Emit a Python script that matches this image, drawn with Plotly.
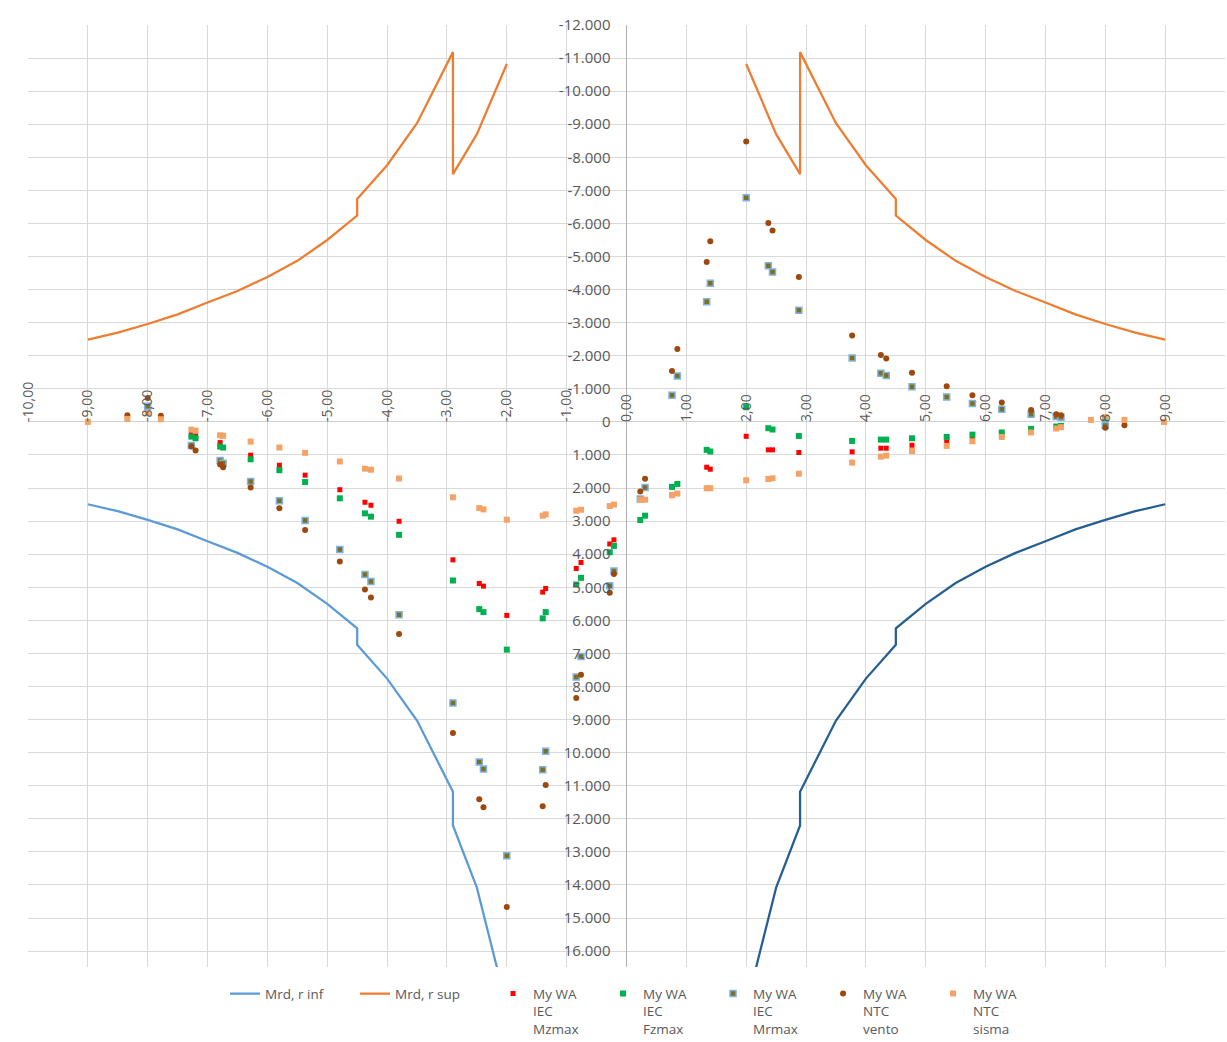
import plotly.graph_objects as go

# --- Resisting moment envelopes (Mrd) versus r ---------------------------
r_env = [-9.0, -8.5, -8.0, -7.5, -7.0, -6.5, -6.0, -5.5, -5.0, -4.5, -4.5,
         -4.0, -3.5, -2.9]
mrd_mag = [2490, 2700, 2960, 3250, 3610, 3960, 4380, 4870, 5500, 6240, 6740,
           7760, 9030, 11180]

# tail of the envelopes near the hub (after the step at r = -2.9)
r_tail = [-2.9, -2.5, -2.0]
sup_tail = [-7490, -8700, -10820]
inf_tail = [12200, 14080, 17680]

# --- Acting moments at the sections ----------------------------------------
r_pos = [-9.0, -8.34, -8.0, -7.78, -7.27, -7.2, -6.79, -6.74, -6.28, -5.8,
         -5.37, -4.79, -4.37, -4.27, -3.8, -2.9, -2.46, -2.39, -2.0, -1.4,
         -1.35, -0.84, -0.76, -0.28, -0.21, 0.23, 0.31, 0.76, 0.85, 1.34,
         1.4, 2.0, 2.37, 2.44, 2.88, 3.77, 4.25, 4.34, 4.77, 5.35, 5.78,
         6.27, 6.76, 7.18, 7.26, 7.76, 8.0, 8.32, 8.98]

my_iec_mzmax = [None, None, None, None, 370, 420, 625, None, 1005, 1310,
                1610, 2050, 2430, 2520, 3005, 4170, 4885, 4965, 5850, 5145,
                5035, 4430, 4250, 3690, 3565, None, None, 2230, None, 1370,
                1430, 435, 845, 845, 925, 905, 795, 795, 705, 615, 495,
                390, 265, None, None, None, None, None, None]

my_iec_fzmax = [None, None, -460, None, 445, 495, 745, 775, 1130, 1460,
                1815, 2310, 2765, 2865, 3415, 4795, 5660, 5750, 6885, 5940,
                5750, 4915, 4715, 3940, 3750, 2965, 2835, 1965, 1875, 845,
                895, -445, 190, 230, 425, 575, 535, 535, 495, 455, 385,
                320, 210, 140, 120, None, -100, None, None]

my_iec_mrmax = [None, None, -470, None, 715, None, 1170, 1250, 1805, 2385,
                2980, 3860, 4615, 4825, 5830, 8495, 10280, 10495, 13120,
                10515, 9960, 7715, 7090, 4955, 4505, 2330, 1985, -805, -1390,
                -3635, -4190, -6775, -4725, -4530, -3375, -1935, -1470,
                -1400, -1065, -755, -555, -385, -230, -160, -140, None, 110,
                None, None]

my_ntc_vento = [None, -200, -720, -190, 745, 865, 1290, 1370, 1985, 2610,
                3270, 4220, 5065, 5305, 6410, 9405, 11410, 11650, 14665,
                11620, 10975, 8350, 7645, 5165, 4600, 2105, 1715, -1540,
                -2205, -4835, -5460, -8480, -6010, -5790, -4380, -2610,
                -2025, -1915, -1490, -1080, -805, -585, -360, -230, -200,
                None, 180, 100, None]

my_ntc_sisma = [0, -90, -265, -80, 235, 265, 405, 420, 595, 775, 935, 1195,
                1415, 1445, 1710, 2280, 2605, 2645, 2955, 2835, 2795, 2685,
                2655, 2545, 2500, 2355, 2350, 2210, 2165, 2005, 2005, 1765,
                1725, 1705, 1565, 1230, 1050, 1020, 880, 725, 585, 455, 320,
                200, 160, -60, -150, -60, 0]

# --- Axis ticks --------------------------------------------------------------
x_ticks = list(range(-10, 11))
x_ticktext = [f"{v},00" for v in x_ticks]
y_ticks = list(range(-12000, 17000, 1000))


def it_thousands(v):
    s = f"{abs(v):,}".replace(",", ".")
    return ("-" if v < 0 else "") + s


y_ticktext = [it_thousands(v) for v in y_ticks]

Y_MIN, Y_MAX = -12000, 16480

# --- Build the envelope curves (left half and mirrored right half) ----------
sup_left_x = r_env + r_tail
sup_left_y = [-m for m in mrd_mag] + sup_tail
inf_left_x = r_env + r_tail
inf_left_y = list(mrd_mag) + inf_tail

sup_right_x = [-x for x in reversed(sup_left_x)]
sup_right_y = list(reversed(sup_left_y))
inf_right_x = [-x for x in reversed(inf_left_x)]
inf_right_y = list(reversed(inf_left_y))

FONT = "Open Sans"
GREY = "#595959"

fig = go.Figure()

fig.add_trace(go.Scatter(
    x=inf_left_x, y=inf_left_y, mode="lines", name="Mrd, r inf",
    line=dict(color="#5B9BD5", width=2.25)))
fig.add_trace(go.Scatter(
    x=sup_left_x + [None] + sup_right_x, y=sup_left_y + [None] + sup_right_y,
    mode="lines", name="Mrd, r sup",
    line=dict(color="#ED7D31", width=2.25)))
fig.add_trace(go.Scatter(
    x=inf_right_x, y=inf_right_y, mode="lines", name="Mrd, r inf ",
    showlegend=False, line=dict(color="#255E91", width=2.25)))

fig.add_trace(go.Scatter(
    x=r_pos, y=my_iec_mzmax, mode="markers", name="My WA<br>IEC<br>Mzmax",
    legend="legend2",
    marker=dict(symbol="square", size=5, color="#FF0000")))
fig.add_trace(go.Scatter(
    x=r_pos, y=my_iec_fzmax, mode="markers", name="My WA<br>IEC<br>Fzmax",
    legend="legend2",
    marker=dict(symbol="square", size=6, color="#00B050")))
fig.add_trace(go.Scatter(
    x=r_pos, y=my_iec_mrmax, mode="markers", name="My WA<br>IEC<br>Mrmax",
    legend="legend2",
    marker=dict(symbol="square", size=6, color="#7F7020",
                line=dict(color="#7FB2E5", width=1.5))))
fig.add_trace(go.Scatter(
    x=r_pos, y=my_ntc_vento, mode="markers", name="My WA<br>NTC<br>vento",
    legend="legend2",
    marker=dict(symbol="circle", size=6, color="#9E480E")))
fig.add_trace(go.Scatter(
    x=r_pos, y=my_ntc_sisma, mode="markers", name="My WA<br>NTC<br>sisma",
    legend="legend2",
    marker=dict(symbol="square", size=6, color="#F4A266")))

x_axis_pos = Y_MAX / (Y_MAX - Y_MIN)
legend_font = dict(family=FONT, size=13.5, color=GREY)

fig.update_layout(
    width=1227, height=1042,
    margin=dict(l=28, r=2, t=25, b=75, autoexpand=False),
    paper_bgcolor="white", plot_bgcolor="white",
    font=dict(family=FONT, size=14, color=GREY),
    xaxis=dict(
        range=[-10, 10], tickvals=x_ticks, ticktext=x_ticktext,
        tickangle=-90, side="top", anchor="free", position=x_axis_pos,
        showgrid=True, gridcolor="#D9D9D9", gridwidth=1,
        zeroline=True, zerolinecolor="#B0B0B0", zerolinewidth=1,
        showline=False, ticks="", tickfont=dict(size=14, color=GREY),
    ),
    yaxis=dict(
        range=[Y_MAX, Y_MIN], tickvals=y_ticks, ticktext=y_ticktext,
        anchor="free", position=0.5, side="left",
        showgrid=True, gridcolor="#D9D9D9", gridwidth=1,
        zeroline=True, zerolinecolor="#D0D0D0", zerolinewidth=1,
        showline=False, ticks="", ticklabelstandoff=16,
        tickfont=dict(size=15, color=GREY),
    ),
    legend=dict(
        orientation="h", x=0.1646, xanchor="left", y=-0.012, yanchor="top",
        valign="top", font=legend_font, itemwidth=30,
        entrywidth=85, entrywidthmode="pixels", traceorder="normal",
    ),
    legend2=dict(
        orientation="h", x=0.3885, xanchor="left", y=-0.012, yanchor="top",
        valign="top", font=legend_font, itemwidth=30,
        entrywidth=65, entrywidthmode="pixels", traceorder="normal",
    ),
    showlegend=True,
)

fig.write_html("out.html")
